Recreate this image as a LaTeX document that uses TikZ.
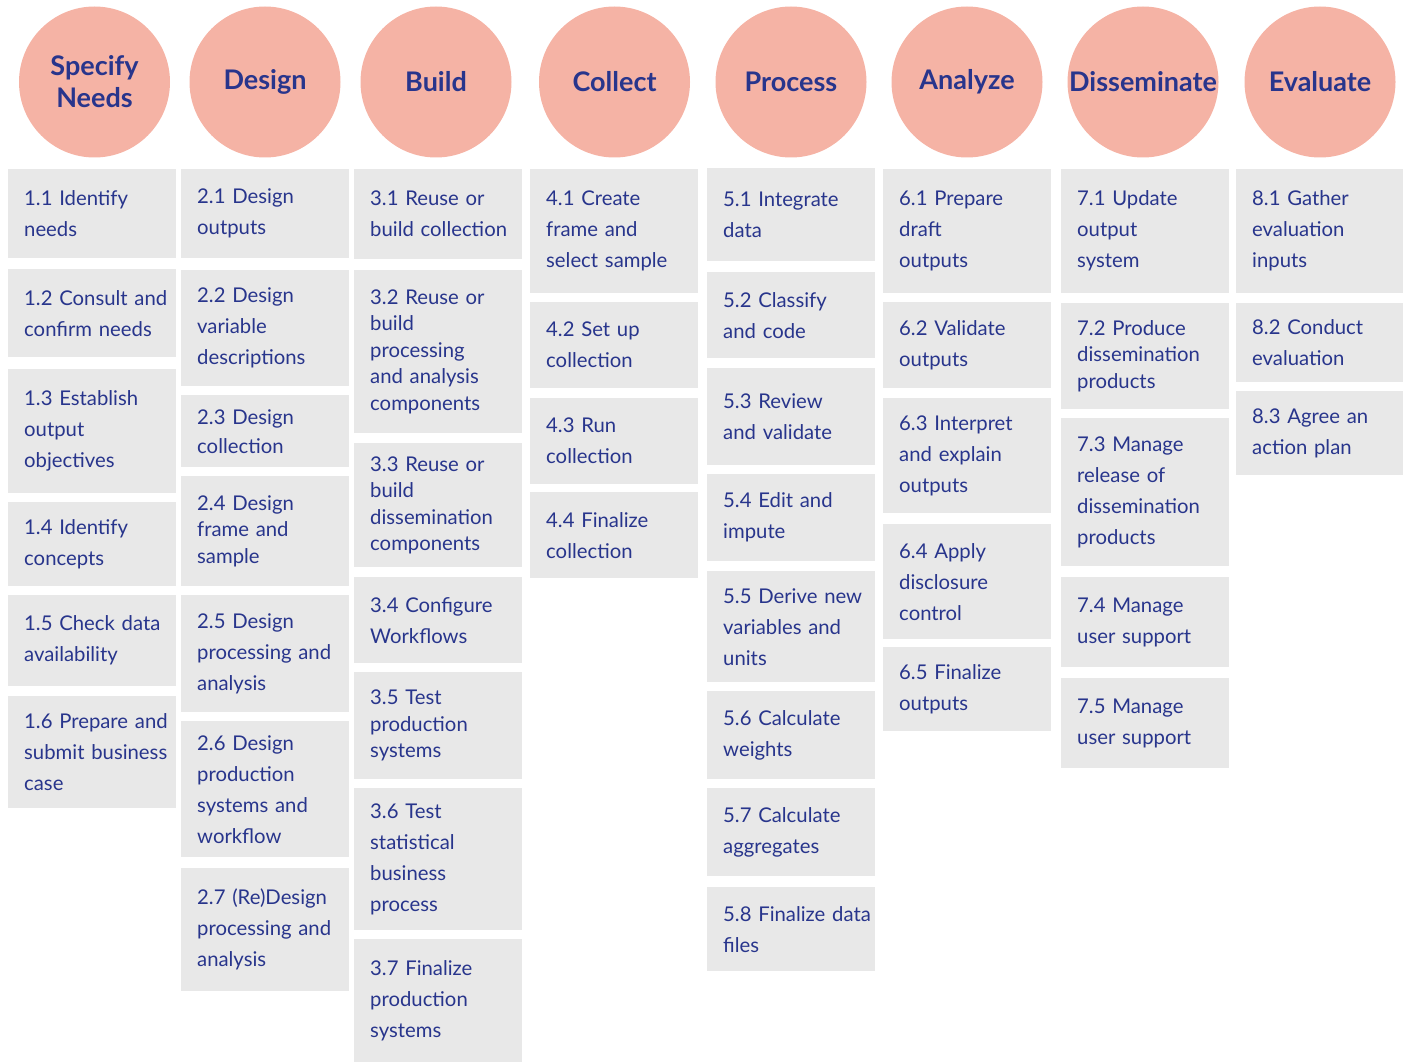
\documentclass[tikz,border=0pt]{standalone}
\usepackage{fontspec}
\setmainfont{Lato}
\definecolor{salmon}{RGB}{245,179,165}
\definecolor{panel}{RGB}{232,232,232}
\definecolor{navy}{RGB}{40,53,140}
\newcommand{\nohyph}{\hyphenpenalty=10000 \exhyphenpenalty=10000 \hbadness=10000 \hfuzz=100pt }
\tikzset{
  phase/.style={circle, fill=salmon, minimum size=151pt, inner sep=0pt,
    text=navy, align=center, font={\fontsize{27}{32}\selectfont\bfseries}},
  task/.style={fill=panel, anchor=north west, text width=136pt, inner xsep=16pt,
    inner ysep=0pt, align=left, text=navy, font={\nohyph\fontsize{20.3}{31}\selectfont}},
  tight/.style={font={\nohyph\fontsize{20.3}{26.5}\selectfont}},
  mid/.style={font={\nohyph\fontsize{20.3}{29}\selectfont}}
}
% task box: name, column left x, top y, bottom y, text (lines kept whole with ~)
\newcommand{\taskbox}[6][]{%
  \pgfmathsetmacro{\boxh}{#5-#4}%
  \node[task,#1, minimum height=\boxh pt] (#2) at (#3,#4) {#6};}
\begin{document}
\begin{tikzpicture}[x=1pt,y=-1pt]
\useasboundingbox (0,0) rectangle (1403,1062);

% phases
\node[phase] (p1) at (94.5,82) {Specify\\Needs};
\node[phase] (p2) at (265,82) {Design};
\node[phase] (p3) at (436,82) {Build};
\node[phase] (p4) at (614.5,82) {Collect};
\node[phase] (p5) at (791,82) {Process};
\node[phase] (p6) at (967,82) {Analyze};
\node[phase] (p7) at (1143,82) {Disseminate};
\node[phase] (p8) at (1320,82) {Evaluate};

% 1 Specify Needs
\taskbox{t11}{8}{169}{258}{1.1~Identify\\needs}
\taskbox{t12}{8}{269}{357}{1.2~Consult~and\\confirm~needs}
\taskbox{t13}{8}{369}{493}{1.3~Establish\\output\\objectives}
\taskbox{t14}{8}{502}{586}{1.4~Identify\\concepts}
\taskbox{t15}{8}{595}{686}{1.5~Check~data\\availability}
\taskbox{t16}{8}{696}{808}{1.6~Prepare~and\\submit~business\\case}

% 2 Design
\taskbox{t21}{181}{169}{258}{2.1~Design\\outputs}
\taskbox{t22}{181}{270}{386}{2.2~Design\\variable\\descriptions}
\taskbox[mid]{t23}{181}{395}{467}{2.3~Design\\collection}
\taskbox[tight]{t24}{181}{476}{586}{2.4~Design\\frame~and\\sample}
\taskbox{t25}{181}{595}{712}{2.5~Design\\processing~and\\analysis}
\taskbox{t26}{181}{721}{857}{2.6~Design\\production\\systems~and\\workflow}
\taskbox{t27}{181}{868}{991}{2.7~(Re)Design\\processing~and\\analysis}

% 3 Build
\taskbox{t31}{354}{169}{259}{3.1~Reuse~or\\build~collection}
\taskbox[tight]{t32}{354}{270}{433}{3.2~Reuse~or\\build\\processing\\and~analysis\\components}
\taskbox[tight]{t33}{354}{443}{567}{3.3~Reuse~or\\build\\dissemination\\components}
\taskbox{t34}{354}{577}{663}{3.4~Configure\\Workflows}
\taskbox[tight]{t35}{354}{672}{779}{3.5~Test\\production\\systems}
\taskbox{t36}{354}{788}{930}{3.6~Test\\statistical\\business\\process}
\taskbox{t37}{354}{939}{1062}{3.7~Finalize\\production\\systems}

% 4 Collect
\taskbox{t41}{530}{169}{293}{4.1~Create\\frame~and\\select~sample}
\taskbox{t42}{530}{302}{388}{4.2~Set~up\\collection}
\taskbox{t43}{530}{398}{484}{4.3~Run\\collection}
\taskbox{t44}{530}{492}{578}{4.4~Finalize\\collection}

% 5 Process
\taskbox{t51}{707}{168}{261}{5.1~Integrate\\data}
\taskbox{t52}{707}{272}{358}{5.2~Classify\\and~code}
\taskbox{t53}{707}{368}{465}{5.3~Review\\and~validate}
\taskbox{t54}{707}{474}{561}{5.4~Edit~and\\impute}
\taskbox{t55}{707}{571}{682}{5.5~Derive~new\\variables~and\\units}
\taskbox{t56}{707}{691}{779}{5.6~Calculate\\weights}
\taskbox{t57}{707}{788}{876}{5.7~Calculate\\aggregates}
\taskbox{t58}{707}{887}{971}{5.8~Finalize~data\\files}

% 6 Analyze
\taskbox{t61}{883}{169}{293}{6.1~Prepare\\draft\\outputs}
\taskbox{t62}{883}{302}{388}{6.2~Validate\\outputs}
\taskbox{t63}{883}{398}{513}{6.3~Interpret\\and~explain\\outputs}
\taskbox{t64}{883}{524}{639}{6.4~Apply\\disclosure\\control}
\taskbox{t65}{883}{647}{731}{6.5~Finalize\\outputs}

% 7 Disseminate
\taskbox{t71}{1061}{169}{293}{7.1~Update\\output\\system}
\taskbox[tight]{t72}{1061}{303}{409}{7.2~Produce\\dissemination\\products}
\taskbox{t73}{1061}{418}{566}{7.3~Manage\\release~of\\dissemination\\products}
\taskbox{t74}{1061}{577}{667}{7.4~Manage\\user~support}
\taskbox{t75}{1061}{678}{768}{7.5~Manage\\user~support}

% 8 Evaluate
\taskbox{t81}{1236}{169}{293}{8.1~Gather\\evaluation\\inputs}
\taskbox{t82}{1236}{303}{382}{8.2~Conduct\\evaluation}
\taskbox{t83}{1236}{391}{475}{8.3~Agree~an\\action~plan}
\end{tikzpicture}
\end{document}
